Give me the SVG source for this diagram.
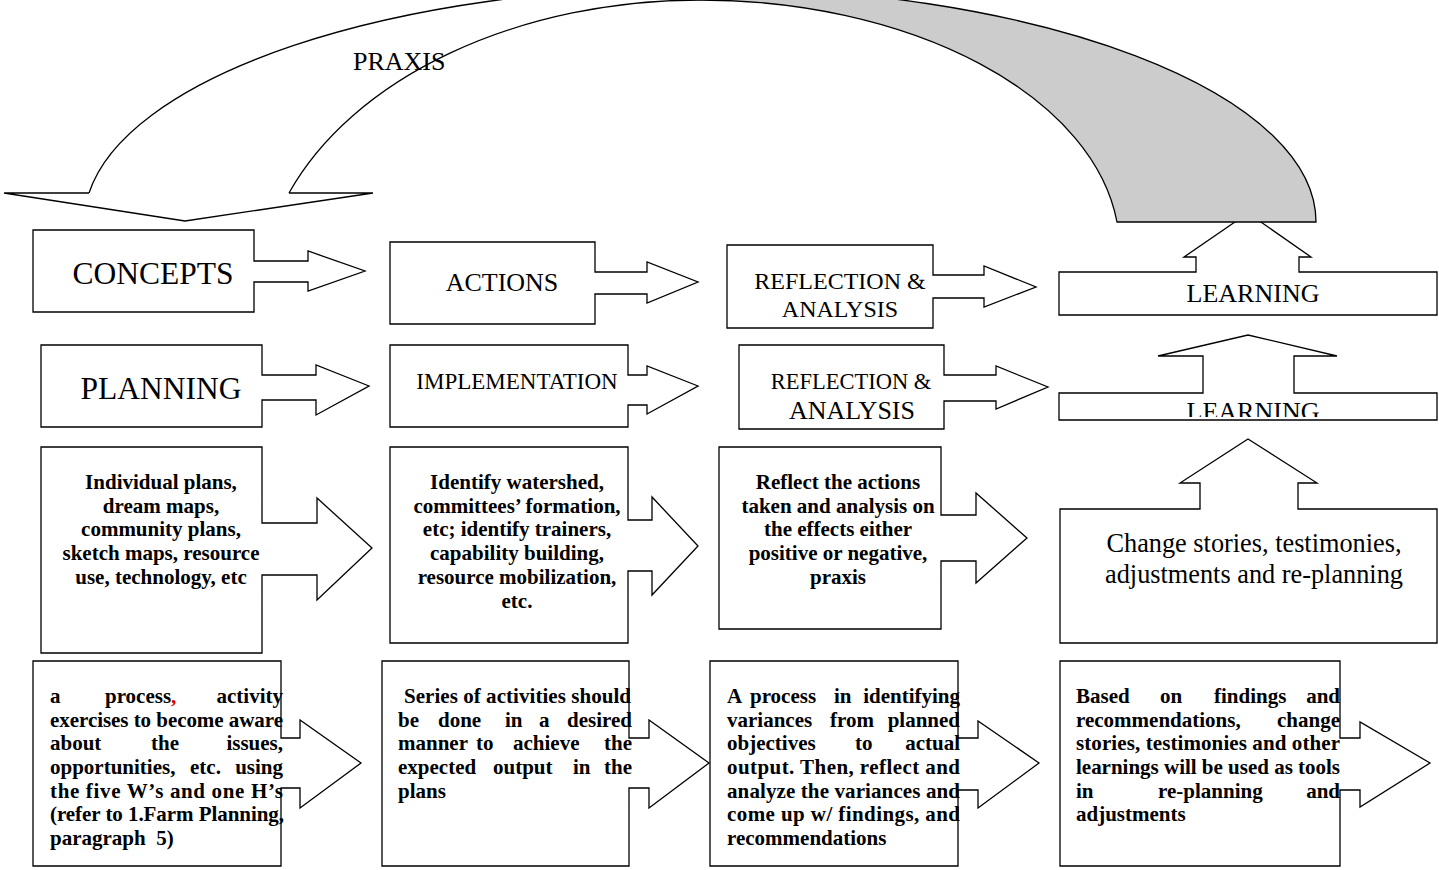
<svg xmlns="http://www.w3.org/2000/svg" width="1439" height="870" viewBox="0 0 1439 870">
  <style>
    .shape { fill: #ffffff; stroke: #000000; stroke-width: 1.3; stroke-linejoin: miter; }
    .band { fill: #cccccc; stroke: #000000; stroke-width: 1.3; }
    .edge { fill: none; stroke: #000000; stroke-width: 1.3; }
    text { font-family: "Liberation Serif", "Times New Roman", serif; fill: #000000; }
    .c { text-anchor: middle; }
    .e { text-anchor: end; }
    .b { font-weight: bold; font-size: 21px; }
    .red { fill: #e00000; }
  </style>
  <defs>
    <clipPath id="learnClip">
      <rect x="1060" y="394" width="377" height="23"/>
    </clipPath>
  </defs>
  <rect width="1439" height="870" fill="#ffffff"/>

  <!-- Row 1 -->
  <g id="concepts">
    <path class="shape" d="M33,230 H254 V261 H308 V251 L365,271 L308,291 V282 H254 V312 H33 Z"/>
    <text class="c" x="153" y="284" font-size="31.5">CONCEPTS</text>
  </g>
  <g id="actions">
    <path class="shape" d="M390,242 H595 V272 H647 V262 L698,282 L647,303 V294 H595 V324 H390 Z"/>
    <text class="c" x="502" y="291" font-size="26">ACTIONS</text>
  </g>
  <g id="reflection1">
    <path class="shape" d="M727,245 H933 V275 H984 V266 L1036,287 L984,307 V298 H933 V328 H727 Z"/>
    <text class="c" x="840" y="289" font-size="24">REFLECTION &amp;</text>
    <text class="c" x="840" y="317" font-size="24">ANALYSIS</text>
  </g>
  <g id="learning1">
    <path class="shape" d="M1059,272 H1196 V257 H1184 L1248,213 L1311,257 H1299 V272 H1437 V315 H1059 Z"/>
    <text class="c" x="1253" y="302" font-size="26">LEARNING</text>
  </g>

  <!-- Row 2 -->
  <g id="planning">
    <path class="shape" d="M41,345 H262 V375 H316 V365 L369,386 L316,415 V400 H262 V427 H41 Z"/>
    <text class="c" x="161" y="399" font-size="31.5">PLANNING</text>
  </g>
  <g id="implementation">
    <path class="shape" d="M390,345 H628 V375 H647 V366 L698,386 L647,414 V405 H628 V427 H390 Z"/>
    <text class="c" x="517" y="389" font-size="23">IMPLEMENTATION</text>
  </g>
  <g id="reflection2">
    <path class="shape" d="M739,345 H944 V375 H996 V366 L1048,387 L996,409 V401 H944 V429 H739 Z"/>
    <text class="c" x="851" y="389" font-size="22.5">REFLECTION &amp;</text>
    <text class="c" x="852" y="419" font-size="26">ANALYSIS</text>
  </g>
  <g id="learning2">
    <path class="shape" d="M1059,393 H1203 V356 H1158 L1248,335 L1337,356 H1294 V393 H1437 V420 H1059 Z"/>
    <text class="c" x="1253" y="420" font-size="26" clip-path="url(#learnClip)">LEARNING</text>
  </g>

  <!-- Row 3 -->
  <g id="plans-detail">
    <path class="shape" d="M41,447 H262 V523 H317 V498 L372,548 L317,600 V575 H262 V653 H41 Z"/>
    <text class="c b" x="161" y="489">Individual plans,</text>
    <text class="c b" x="161" y="513">dream maps,</text>
    <text class="c b" x="161" y="536">community plans,</text>
    <text class="c b" x="161" y="560">sketch maps, resource</text>
    <text class="c b" x="161" y="584">use, technology, etc</text>
  </g>
  <g id="implementation-detail">
    <path class="shape" d="M390,447 H628 V520 H652 V497 L698,546 L652,595 V571 H628 V643 H390 Z"/>
    <text class="c b" x="517" y="489">Identify watershed,</text>
    <text class="c b" x="517" y="513">committees’ formation,</text>
    <text class="c b" x="517" y="536">etc; identify trainers,</text>
    <text class="c b" x="517" y="560">capability building,</text>
    <text class="c b" x="517" y="584">resource mobilization,</text>
    <text class="c b" x="517" y="608">etc.</text>
  </g>
  <g id="reflection-detail">
    <path class="shape" d="M719,447 H941 V515 H976 V493 L1027,538 L976,583 V561 H941 V629 H719 Z"/>
    <text class="c b" x="838" y="489">Reflect the actions</text>
    <text class="c b" x="838" y="513">taken and analysis on</text>
    <text class="c b" x="838" y="536">the effects either</text>
    <text class="c b" x="838" y="560">positive or negative,</text>
    <text class="c b" x="838" y="584">praxis</text>
  </g>
  <g id="learning-detail">
    <path class="shape" d="M1060,509 H1200 V483 H1180 L1248,439 L1317,483 H1298 V509 H1437 V643 H1060 Z"/>
    <text class="c" x="1254" y="552" font-size="26.3">Change stories, testimonies,</text>
    <text class="c" x="1254" y="583" font-size="26.3">adjustments and re-planning</text>
  </g>

  <!-- Row 4 -->
  <g id="planning-note">
    <path class="shape" d="M33,661 H281 V738 H300 V720 L361,763 L300,808 V788 H281 V866 H33 Z"/>
    <text class="b" x="50" y="703">a</text>
    <text class="b" x="105" y="703">process<tspan class="red">,</tspan></text>
    <text class="b e" x="283" y="703">activity</text>
    <text class="b" x="50" y="727" textLength="233" lengthAdjust="spacing">exercises to become aware</text>
    <text class="b" x="50" y="750">about</text>
    <text class="b" x="151" y="750">the</text>
    <text class="b e" x="283" y="750">issues,</text>
    <text class="b" x="50" y="774">opportunities,</text>
    <text class="b" x="190" y="774">etc.</text>
    <text class="b e" x="283" y="774">using</text>
    <text class="b" x="50" y="798" textLength="233" lengthAdjust="spacing">the five W’s and one H’s</text>
    <text class="b" x="50" y="821" textLength="234" lengthAdjust="spacing">(refer to 1.Farm Planning,</text>
    <text class="b" x="50" y="845" xml:space="preserve">paragraph  5)</text>
  </g>
  <g id="implementation-note">
    <path class="shape" d="M382,661 H629 V738 H649 V720 L709,763 L649,808 V788 H629 V866 H382 Z"/>
    <text class="b" x="404" y="703" textLength="227" lengthAdjust="spacing">Series of activities should</text>
    <text class="b" x="398" y="727">be</text>
    <text class="b" x="438" y="727">done</text>
    <text class="b" x="505" y="727">in</text>
    <text class="b" x="539" y="727">a</text>
    <text class="b e" x="632" y="727">desired</text>
    <text class="b" x="398" y="750">manner</text>
    <text class="b" x="476" y="750">to</text>
    <text class="b" x="513" y="750">achieve</text>
    <text class="b e" x="632" y="750">the</text>
    <text class="b" x="398" y="774">expected</text>
    <text class="b" x="493" y="774">output</text>
    <text class="b" x="573" y="774">in</text>
    <text class="b e" x="632" y="774">the</text>
    <text class="b" x="398" y="798">plans</text>
  </g>
  <g id="reflection-note">
    <path class="shape" d="M710,661 H958 V738 H978 V721 L1039,763 L978,808 V790 H958 V866 H710 Z"/>
    <text class="b" x="727" y="703">A</text>
    <text class="b" x="750" y="703">process</text>
    <text class="b" x="834" y="703">in</text>
    <text class="b e" x="960" y="703">identifying</text>
    <text class="b" x="727" y="727">variances</text>
    <text class="b" x="830" y="727">from</text>
    <text class="b e" x="960" y="727">planned</text>
    <text class="b" x="727" y="750">objectives</text>
    <text class="b" x="855" y="750">to</text>
    <text class="b e" x="960" y="750">actual</text>
    <text class="b" x="727" y="774" textLength="233" lengthAdjust="spacing">output. Then, reflect and</text>
    <text class="b" x="727" y="798" textLength="233" lengthAdjust="spacing">analyze the variances and</text>
    <text class="b" x="727" y="821" textLength="233" lengthAdjust="spacing">come up w/ findings, and</text>
    <text class="b" x="727" y="845">recommendations</text>
  </g>
  <g id="learning-note">
    <path class="shape" d="M1060,661 H1340 V738 H1360 V722 L1430,763 L1360,807 V790 H1340 V866 H1060 Z"/>
    <text class="b" x="1076" y="703">Based</text>
    <text class="b" x="1160" y="703">on</text>
    <text class="b" x="1214" y="703">findings</text>
    <text class="b e" x="1340" y="703">and</text>
    <text class="b" x="1076" y="727">recommendations,</text>
    <text class="b e" x="1340" y="727">change</text>
    <text class="b" x="1076" y="750" textLength="264" lengthAdjust="spacing">stories, testimonies and other</text>
    <text class="b" x="1076" y="774" textLength="264" lengthAdjust="spacing">learnings will be used as tools</text>
    <text class="b" x="1076" y="798">in</text>
    <text class="b" x="1158" y="798">re-planning</text>
    <text class="b e" x="1340" y="798">and</text>
    <text class="b" x="1076" y="821">adjustments</text>
  </g>

  <!-- Curved praxis arrow from LEARNING back to CONCEPTS -->
  <g id="connectors">
    <path class="band" d="M1117,222 A420,250 0 0 0 700,0 L700,-13 A616,235 0 0 1 1316,222 Z"/>
    <path class="edge" d="M289,193 A440,300 0 0 1 700,0"/>
    <path class="edge" d="M89,193 A616,235 0 0 1 700,-13"/>
    <path class="shape" d="M89,193 H4 L185,221 L373,193 H289"/>
    <text x="353" y="70" font-size="26">PRAXIS</text>
  </g>
</svg>
